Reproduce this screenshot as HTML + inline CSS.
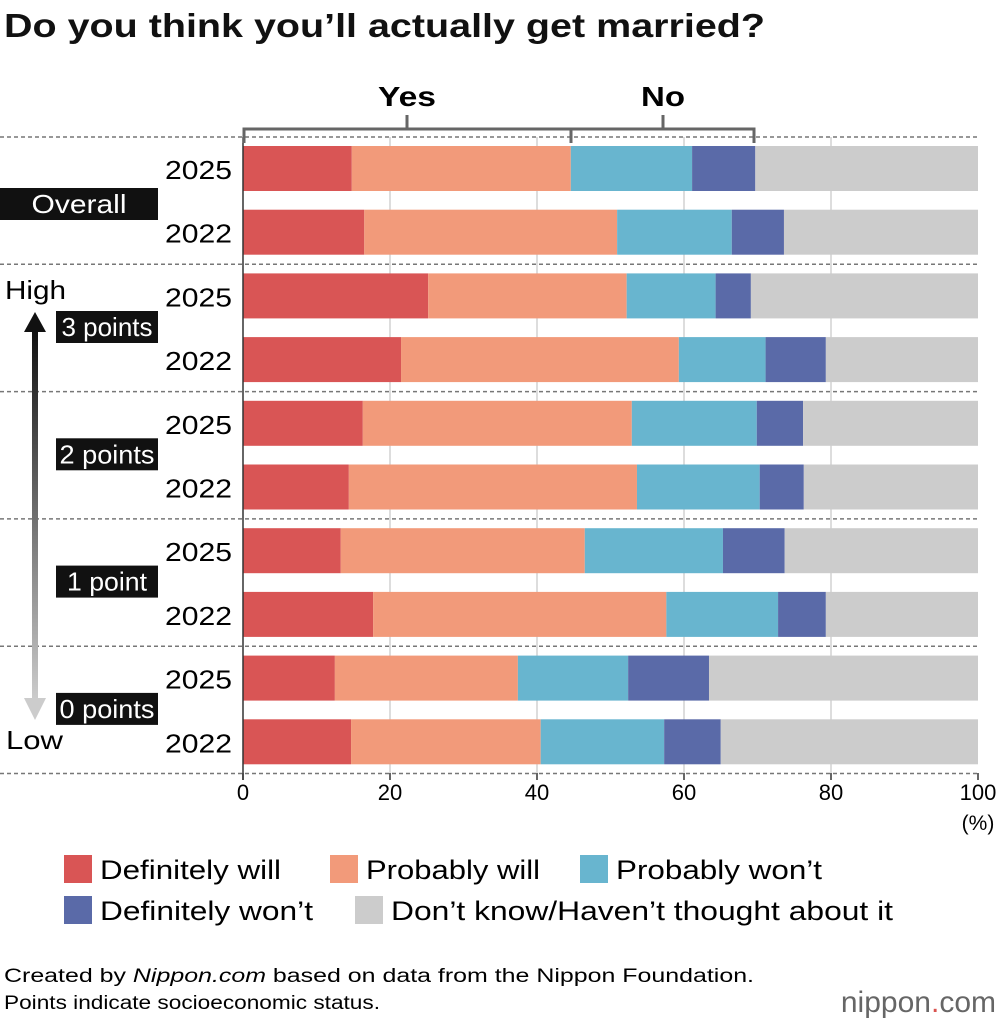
<!DOCTYPE html>
<html><head><meta charset="utf-8"><style>
body{margin:0;background:#fff;font-family:"Liberation Sans",sans-serif;}
svg text{font-family:"Liberation Sans",sans-serif;}
</style></head><body>
<svg width="1000" height="1024" viewBox="0 0 1000 1024">
<defs><linearGradient id="ag" x1="0" y1="0" x2="0" y2="1"><stop offset="0" stop-color="#111"/><stop offset="1" stop-color="#ccc"/></linearGradient></defs>
<text x="4" y="37" font-size="33" font-weight="bold" fill="#111" textLength="761" lengthAdjust="spacingAndGlyphs">Do you think you’ll actually get married?</text>
<g id="grid"></g>
<g id="bars"></g>
<g id="labels"></g>
<g stroke="#666" stroke-width="3" fill="none">
<path d="M244,143 V129 H571 V143"/><path d="M571,143 V129 H754 V143"/><line x1="407" y1="129" x2="407" y2="115"/><line x1="663" y1="129" x2="663" y2="115"/>
</g>
<text x="407" y="106" font-size="28" font-weight="bold" text-anchor="middle" textLength="58" lengthAdjust="spacingAndGlyphs">Yes</text>
<text x="663" y="106" font-size="28" font-weight="bold" text-anchor="middle" textLength="44" lengthAdjust="spacingAndGlyphs">No</text>
<g>
<rect x="32" y="330" width="6" height="370" fill="url(#ag)"/>
<polygon points="24,332 46,332 35,312" fill="#111"/>
<polygon points="24,698 46,698 35,720" fill="#ccc"/>
</g>
<text x="5" y="299" font-size="26" textLength="61" lengthAdjust="spacingAndGlyphs">High</text>
<text x="6" y="749" font-size="26" textLength="57" lengthAdjust="spacingAndGlyphs">Low</text>
<text x="978" y="830" font-size="21" text-anchor="middle">(%)</text>
<g id="legend"></g>
<text x="4" y="982" font-size="19" textLength="750" lengthAdjust="spacingAndGlyphs">Created by <tspan font-style="italic">Nippon.com</tspan> based on data from the Nippon Foundation.</text>
<text x="4" y="1009" font-size="19" textLength="376" lengthAdjust="spacingAndGlyphs">Points indicate socioeconomic status.</text>
<text x="996" y="1012" font-size="30" text-anchor="end" fill="#666">nippon<tspan fill="#d9534f">.</tspan>com</text>
</svg>
<script>
const groups=["Overall","3 points","2 points","1 point","0 points"];
const years=["2025","2022"];
const seriesNames=["Definitely will","Probably will","Probably won’t","Definitely won’t","Don’t know/Haven’t thought about it"];
const definitelyWill=[14.8,16.5,25.2,21.5,16.3,14.4,13.3,17.7,12.5,14.7];
const probablyWill=[29.8,34.4,27.0,37.8,36.6,39.2,33.2,39.9,24.9,25.8];
const probablyWont=[16.5,15.6,12.1,11.8,17.0,16.7,18.8,15.2,15.0,16.8];
const definitelyWont=[8.6,7.1,4.8,8.2,6.3,6.0,8.4,6.5,11.0,7.7];
const dontKnow=[30.3,26.4,30.9,20.7,23.8,23.7,26.3,20.7,36.6,35.0];
const ticks=[0,20,40,60,80,100];
const colors=["#d95555","#f29a7a","#68b5cf","#5a6aa8","#cccccc"];
const NS="http://www.w3.org/2000/svg";
const x=v=>243+v*7.35;
const rowY=i=>146+i*63.7;
function mk(t,a,p){const e=document.createElementNS(NS,t);for(const k in a)e.setAttribute(k,a[k]);p.appendChild(e);return e;}
const series=[definitelyWill,probablyWill,probablyWont,definitelyWont,dontKnow];
const gb=document.getElementById('bars'),gg=document.getElementById('grid'),gl=document.getElementById('labels'),lg=document.getElementById('legend');
for(let r=0;r<10;r++){let c=0;for(let s=0;s<5;s++){const v=series[s][r];
const el=mk('rect',{x:x(c),y:rowY(r),width:v*7.35,height:45,fill:colors[s]},gb);


c+=v;}
const t=mk('text',{x:232,y:rowY(r)+33,'font-size':26,'text-anchor':'end',textLength:67,lengthAdjust:'spacingAndGlyphs'},gl);t.textContent=years[r%2];

}
ticks.forEach(v=>{if(v>0&&v<100){const l=mk('line',{x1:x(v),x2:x(v),y1:137,y2:773,stroke:'#ddd','stroke-width':2},gg);

}
const t=mk('text',{x:x(v),y:800,'font-size':22,'text-anchor':'middle'},gl);t.textContent=v;


mk('line',{x1:x(v),x2:x(v),y1:773,y2:780,stroke:'#333','stroke-width':1.5},gl);});
for(let g=0;g<6;g++){const y=137+g*127.3;const l=mk('line',{x1:0,x2:978,y1:y,y2:y,stroke:'#777','stroke-width':1.5,'stroke-dasharray':'4,3'},gl);

}
mk('line',{x1:243,x2:243,y1:137,y2:780,stroke:'#333','stroke-width':1.5},gl);
const glw=[95,91,95,80,95];
groups.forEach((g,i)=>{const cy=i==0?204:327+(i-1)*127.3;const w=i==0?158:102;const bx=158-w;
const b=mk('rect',{x:bx,y:cy-16,width:w,height:32,fill:'#111'},gl);


const t=mk('text',{x:bx+w/2,y:cy+9,'font-size':26,fill:'#fff','text-anchor':'middle',textLength:glw[i],lengthAdjust:'spacingAndGlyphs'},gl);t.textContent=g;

});
const lp=[[64,855],[330,855],[580,855],[64,896],[355,896]];
const lw=[181,174,206,213,502];
seriesNames.forEach((n,i)=>{const r=mk('rect',{x:lp[i][0],y:lp[i][1],width:28,height:28,fill:colors[i]},lg);


const t=mk('text',{x:lp[i][0]+36,y:lp[i][1]+24,'font-size':27,textLength:lw[i],lengthAdjust:'spacingAndGlyphs'},lg);t.textContent=n;

});
</script>
</body></html>
